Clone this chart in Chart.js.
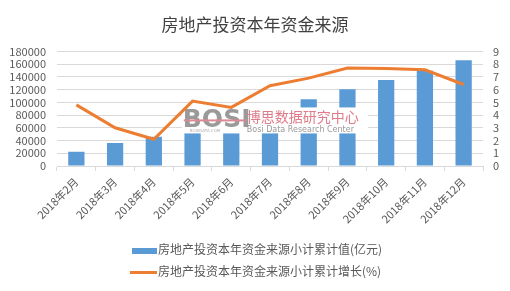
<!DOCTYPE html>
<html lang="zh">
<head>
    <meta charset="UTF-8">
    <title>房地产投资本年资金来源</title>
    <script src="https://cdn.jsdelivr.net/npm/chart.js"></script>
    <style>
        body {
            margin: 0;
            background: #fff;
            font-family: "Noto Sans CJK SC", sans-serif;
        }
        #wrap {
            position: relative;
            width: 510px;
            height: 291px;
        }
        #legend {
            position: absolute;
            left: 130px;
            top: 239px;
            font-size: 12px;
            color: #595959;
        }
        .item {
            height: 22px;
            line-height: 20px;
            white-space: nowrap;
        }
        .swatch {
            display: inline-block;
            width: 27px;
            vertical-align: middle;
            margin-right: 1px;
        }
    </style>
</head>
<body>
<div id="wrap">
    <canvas id="chart" width="510" height="291"></canvas>
    <div id="legend"></div>
</div>
<script>
    const months = ['2018年2月', '2018年3月', '2018年4月', '2018年5月', '2018年6月', '2018年7月',
        '2018年8月', '2018年9月', '2018年10月', '2018年11月', '2018年12月'];
    const fundValues = [22384, 36128, 46000, 61568, 77000, 89500, 104800, 120700, 135000, 149800, 165963];
    const growthValues = [4.8, 3.0, 2.1, 5.1, 4.6, 6.3, 6.9, 7.7, 7.65, 7.55, 6.4];
    const leftTicks = [0, 20000, 40000, 60000, 80000, 100000, 120000, 140000, 160000, 180000];
    const rightTicks = [0, 1, 2, 3, 4, 5, 6, 7, 8, 9];

    const seriesNames = ['房地产投资本年资金来源小计累计值(亿元)', '房地产投资本年资金来源小计累计增长(%)'];
    const barColor = '#5b9bd5';
    const lineColor = '#ed7d31';
    const textColor = '#595959';
    const gridColor = '#d9d9d9';
    const cjk = '"Noto Sans CJK SC", sans-serif';

    // 水印：白底盖住柱子，折线画在上面
    const watermark = {
        id: 'watermark',
        afterDatasetDraw(chart, args) {
            if (args.index !== 0) return;
            const c = chart.ctx;
            const x = chart.scales.x;
            const y = chart.scales.y;
            const left = x.getPixelForValue(2) + 28;
            const top = y.getPixelForValue(92000);
            c.save();
            c.fillStyle = '#fff';
            c.fillRect(left, top, 186, 26);
            c.textBaseline = 'alphabetic';
            c.fillStyle = '#9a9a9a';
            c.font = 'bold 25px "DejaVu Sans", sans-serif';
            c.fillText('BOSI', left + 1, top + 20);
            c.fillStyle = '#d98a94';
            c.fillRect(left + 2, top + 12, 62, 2);
            c.fillStyle = '#b0b0b0';
            c.font = '4px "DejaVu Sans", sans-serif';
            c.fillText('BOSIDATA.COM', left + 8, top + 25);
            c.fillStyle = '#e07b8a';
            c.font = '14px ' + cjk;
            c.fillText('博思数据研究中心', left + 65, top + 15);
            c.fillStyle = '#999';
            c.font = '8px "DejaVu Sans", sans-serif';
            c.fillText('Bosi Data Research Center', left + 65, top + 25);
            c.restore();
        }
    };

    const tickFont = { family: cjk, size: 11 };

    new Chart(document.getElementById('chart'), {
        data: {
            labels: months,
            datasets: [{
                type: 'bar',
                label: seriesNames[0],
                data: fundValues,
                backgroundColor: barColor,
                barPercentage: 0.42,
                categoryPercentage: 1,
                yAxisID: 'y',
                order: 1
            }, {
                type: 'line',
                label: seriesNames[1],
                data: growthValues,
                borderColor: lineColor,
                borderWidth: 3,
                pointRadius: 0,
                tension: 0,
                yAxisID: 'y1',
                order: 0
            }]
        },
        options: {
            responsive: false,
            animation: false,
            layout: { padding: 0 },
            plugins: {
                legend: { display: false },
                tooltip: { enabled: false },
                title: {
                    display: true,
                    text: '房地产投资本年资金来源',
                    color: '#404040',
                    font: { family: cjk, size: 17, weight: 'normal', lineHeight: 1.2 },
                    padding: { top: 14, bottom: 17 }
                }
            },
            scales: {
                x: {
                    grid: { display: true, drawOnChartArea: false, offset: true, tickLength: 5, color: gridColor },
                    border: { color: gridColor },
                    ticks: {
                        color: textColor,
                        font: tickFont,
                        minRotation: 45,
                        maxRotation: 45,
                        autoSkip: false,
                        padding: 4
                    },
                    afterFit(scale) { scale.height = 125; }
                },
                y: {
                    position: 'left',
                    min: 0,
                    max: 180000,
                    afterBuildTicks(scale) { scale.ticks = leftTicks.map(v => ({ value: v })); },
                    grid: { color: gridColor, drawTicks: false },
                    border: { display: false },
                    ticks: {
                        color: textColor,
                        font: tickFont,
                        autoSkip: false,
                        padding: 11,
                        callback: v => String(v)
                    },
                    afterFit(scale) { scale.width = 57; }
                },
                y1: {
                    position: 'right',
                    min: 0,
                    max: 9,
                    afterBuildTicks(scale) { scale.ticks = rightTicks.map(v => ({ value: v })); },
                    grid: { drawOnChartArea: false, drawTicks: false },
                    border: { display: false },
                    ticks: {
                        color: textColor,
                        font: tickFont,
                        autoSkip: false,
                        padding: 10,
                        callback: v => String(v)
                    },
                    afterFit(scale) { scale.width = 27; }
                }
            }
        },
        plugins: [watermark]
    });

    const legend = document.getElementById('legend');
    legend.innerHTML =
        '<div class="item"><span class="swatch" style="height:6px;background:' + barColor + ';margin-left:2px;width:25px"></span>' + seriesNames[0] + '</div>' +
        '<div class="item"><span class="swatch" style="height:3px;background:' + lineColor + '"></span>' + seriesNames[1] + '</div>';
</script>
</body>
</html>
